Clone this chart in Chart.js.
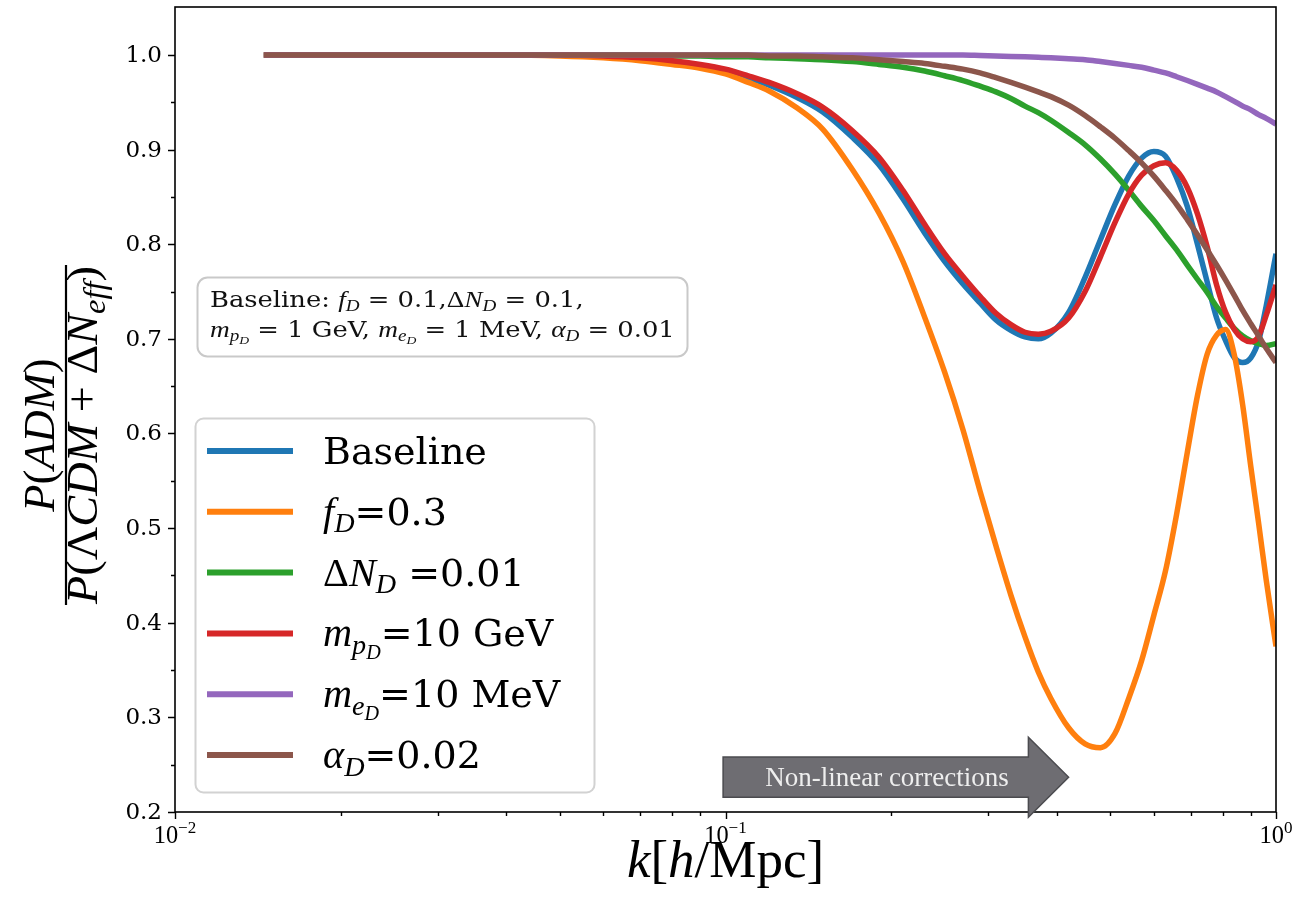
<!DOCTYPE html>
<html lang="en">
<head>
<meta charset="UTF-8">
<title>P(ADM) / P(ΛCDM + ΔNeff)</title>
<script src="https://cdn.jsdelivr.net/npm/chart.js"></script>
<style>
  html, body { margin: 0; padding: 0; background: #fff; }
  #wrap { width: 1299px; height: 914px; }
</style>
</head>
<body>
<div id="wrap"><canvas id="ratioChart" width="1299" height="914"></canvas></div>

<script>
// k [h/Mpc] sample points shared by every curve
const kValues = [0.0145, 0.02, 0.03, 0.04, 0.05, 0.06, 0.07, 0.08, 0.09, 0.1,
  0.11, 0.12, 0.135, 0.15, 0.17, 0.19, 0.21, 0.23, 0.25, 0.27,
  0.29, 0.31, 0.33, 0.35, 0.37, 0.39, 0.42, 0.45, 0.48, 0.51,
  0.54, 0.57, 0.6, 0.63, 0.66, 0.69, 0.72, 0.75, 0.78, 0.81,
  0.84, 0.87, 0.9, 0.93, 0.96, 1.0];

const baseline = [1.0, 1.0, 1.0, 1.0, 1.0, 0.999, 0.996, 0.993, 0.989, 0.983,
  0.976, 0.968, 0.955, 0.94, 0.913, 0.884, 0.848, 0.812, 0.782, 0.758,
  0.738, 0.72, 0.709, 0.702, 0.7, 0.706, 0.728, 0.765, 0.805, 0.842,
  0.872, 0.891, 0.898, 0.893, 0.87, 0.84, 0.8, 0.76, 0.722, 0.698,
  0.68, 0.675, 0.68, 0.698, 0.735, 0.79];

const fD03 = [1.0, 1.0, 1.0, 1.0, 0.999, 0.997, 0.994, 0.99, 0.986, 0.98,
  0.971, 0.962, 0.944, 0.922, 0.879, 0.833, 0.782, 0.723, 0.665, 0.604,
  0.539, 0.481, 0.429, 0.385, 0.348, 0.32, 0.289, 0.272, 0.268, 0.283,
  0.32, 0.36, 0.408, 0.455, 0.515, 0.58, 0.64, 0.684, 0.704, 0.71,
  0.683, 0.63, 0.565, 0.505, 0.445, 0.375];

const dND001 = [1.0, 1.0, 1.0, 1.0, 1.0, 1.0, 1.0, 0.999, 0.999, 0.998,
  0.998, 0.997, 0.996, 0.995, 0.993, 0.99, 0.987, 0.983, 0.978, 0.973,
  0.967, 0.961, 0.954, 0.946, 0.939, 0.931, 0.918, 0.905, 0.89, 0.874,
  0.857, 0.84, 0.825, 0.809, 0.794, 0.778, 0.763, 0.749, 0.734, 0.722,
  0.711, 0.703, 0.698, 0.695, 0.693, 0.695];

const mp10GeV = [1.0, 1.0, 1.0, 1.0, 1.0, 0.999, 0.997, 0.994, 0.99, 0.985,
  0.978, 0.971, 0.959, 0.945, 0.92, 0.892, 0.857, 0.821, 0.79, 0.766,
  0.745, 0.727, 0.715, 0.707, 0.705, 0.708, 0.722, 0.75, 0.787, 0.823,
  0.853, 0.873, 0.883, 0.886, 0.878, 0.86, 0.832, 0.797, 0.757, 0.728,
  0.71, 0.7, 0.697, 0.703, 0.725, 0.757];

const me10MeV = [1.0, 1.0, 1.0, 1.0, 1.0, 1.0, 1.0, 1.0, 1.0, 1.0,
  1.0, 1.0, 1.0, 1.0, 1.0, 1.0, 1.0, 1.0, 1.0, 1.0,
  0.9995, 0.999, 0.9985, 0.998, 0.9975, 0.997, 0.996, 0.995, 0.993, 0.991,
  0.989, 0.987, 0.984, 0.981, 0.977, 0.973, 0.969, 0.965, 0.961, 0.956,
  0.951, 0.946, 0.942, 0.937, 0.933, 0.927];

const alphaD002 = [1.0, 1.0, 1.0, 1.0, 1.0, 1.0, 1.0, 1.0, 1.0, 1.0,
  1.0, 0.999, 0.999, 0.998, 0.997, 0.995, 0.993, 0.991, 0.988, 0.985,
  0.981, 0.976, 0.971, 0.966, 0.961, 0.956, 0.947, 0.936, 0.924, 0.912,
  0.899, 0.886, 0.872, 0.857, 0.842, 0.826, 0.81, 0.794, 0.778, 0.762,
  0.746, 0.73, 0.716, 0.703, 0.69, 0.675];

const seriesNames = ['Baseline', 'f_D=0.3', 'ΔN_D =0.01', 'm_p_D=10 GeV', 'm_e_D=10 MeV', 'α_D=0.02'];
const seriesValues = [baseline, fD03, dND001, mp10GeV, me10MeV, alphaD002];
const seriesColors = ['#1f77b4', '#ff7f0e', '#2ca02c', '#d62728', '#9467bd', '#8c564b'];

// legend labels as [text, style, level]: t = text font, i = math italic, m = math upright
const legendLabels = [
  [['Baseline', 't']],
  [['f', 'i'], ['D', 'i', 1], ['=0.3', 't']],
  [['Δ', 'm'], ['N', 'i'], ['D', 'i', 1], [' =0.01', 't']],
  [['m', 'i'], ['p', 'i', 1], ['D', 'i', 2], ['=10 GeV', 't']],
  [['m', 'i'], ['e', 'i', 1], ['D', 'i', 2], ['=10 MeV', 't']],
  [['α', 'i'], ['D', 'i', 1], ['=0.02', 't']]
];

const infoLines = [
  [['Baseline: ', 't'], ['f', 'i'], ['D', 'i', 1], [' = 0.1,', 't'], ['Δ', 'm'], ['N', 'i'], ['D', 'i', 1], [' = 0.1,', 't']],
  [['m', 'i'], ['p', 'i', 1], ['D', 'i', 2], [' = 1 GeV, ', 't'], ['m', 'i'], ['e', 'i', 1], ['D', 'i', 2],
   [' = 1 MeV, ', 't'], ['α', 'i'], ['D', 'i', 1], [' = 0.01', 't']]
];

const yTicks = [0.2, 0.3, 0.4, 0.5, 0.6, 0.7, 0.8, 0.9, 1.0];
const yTickLabels = ['0.2', '0.3', '0.4', '0.5', '0.6', '0.7', '0.8', '0.9', '1.0'];
const yMinorTicks = [0.25, 0.35, 0.45, 0.55, 0.65, 0.75, 0.85, 0.95];
const xTicks = [0.01, 0.1, 1];
const xTickExponents = ['−2', '−1', '0'];
const xMinorTicks = [0.02, 0.03, 0.04, 0.05, 0.06, 0.07, 0.08, 0.09,
  0.2, 0.3, 0.4, 0.5, 0.6, 0.7, 0.8, 0.9];

const arrowText = 'Non-linear corrections';

const ROMAN = '"DejaVu Serif", serif';
const MATH = '"Liberation Serif", "Times New Roman", serif';

function setSegFont(ctx, style, px) {
  if (style === 'i') ctx.font = 'italic ' + px + 'px ' + MATH;
  else if (style === 'm') ctx.font = px + 'px ' + MATH;
  else ctx.font = px + 'px ' + ROMAN;
}

function richLayout(ctx, segs, size) {
  let w = 0;
  const parts = segs.map(([t, st, lv]) => {
    lv = lv || 0;
    let px = size * (lv === 2 ? 0.5 : lv ? 0.7 : 1);
    if (st !== 't') px *= 1.06;
    setSegFont(ctx, st, px);
    const dy = lv === 1 ? 0.2 * size : lv === 2 ? 0.33 * size : lv === -1 ? -0.42 * size : 0;
    const part = { t, st, px, dy, x: w };
    w += ctx.measureText(t).width;
    return part;
  });
  return { parts, w };
}

// sx stretches the run horizontally
function drawRich(ctx, segs, x, y, size, align, sx) {
  sx = sx || 1;
  const { parts, w } = richLayout(ctx, segs, size);
  const x0 = align === 'center' ? x - w * sx / 2 : align === 'right' ? x - w * sx : x;
  ctx.save();
  ctx.translate(x0, y);
  ctx.scale(sx, 1);
  for (const p of parts) {
    setSegFont(ctx, p.st, p.px);
    ctx.fillText(p.t, p.x, p.dy);
  }
  ctx.restore();
}

function roundRect(ctx, x, y, w, h, r) {
  ctx.beginPath();
  ctx.moveTo(x + r, y);
  ctx.arcTo(x + w, y, x + w, y + h, r);
  ctx.arcTo(x + w, y + h, x, y + h, r);
  ctx.arcTo(x, y + h, x, y, r);
  ctx.arcTo(x, y, x + w, y, r);
  ctx.closePath();
}

const decorations = {
  id: 'decorations',
  afterDatasetsDraw(chart) {
    const { ctx, chartArea: a, scales: { x, y } } = chart;
    ctx.save();
    ctx.textBaseline = 'alphabetic';
    ctx.textAlign = 'left';
    ctx.fillStyle = '#000';

    // frame
    ctx.strokeStyle = '#000';
    ctx.lineWidth = 1.6;
    ctx.strokeRect(a.left, a.top, a.right - a.left, a.bottom - a.top);

    // ticks
    ctx.lineWidth = 1.4;
    ctx.beginPath();
    yTicks.forEach(v => { const py = Math.round(y.getPixelForValue(v)) + 0.5; ctx.moveTo(a.left, py); ctx.lineTo(a.left - 7, py); });
    yMinorTicks.forEach(v => { const py = Math.round(y.getPixelForValue(v)) + 0.5; ctx.moveTo(a.left, py); ctx.lineTo(a.left - 4, py); });
    xTicks.forEach(v => { const px = Math.round(x.getPixelForValue(v)) + 0.5; ctx.moveTo(px, a.bottom); ctx.lineTo(px, a.bottom + 7); });
    xMinorTicks.forEach(v => { const px = Math.round(x.getPixelForValue(v)) + 0.5; ctx.moveTo(px, a.bottom); ctx.lineTo(px, a.bottom + 4); });
    ctx.stroke();

    ctx.font = '23px ' + ROMAN;
    ctx.textAlign = 'right';
    ctx.textBaseline = 'middle';
    yTicks.forEach((v, i) => ctx.fillText(yTickLabels[i], a.left - 13, y.getPixelForValue(v) + 1));
    ctx.textAlign = 'left';
    ctx.textBaseline = 'alphabetic';
    xTicks.forEach((v, i) => {
      drawRich(ctx, [['10', 'm'], [xTickExponents[i], 'm', -1]], x.getPixelForValue(v), a.bottom + 31, 23, 'center');
    });

    // axis titles
    drawRich(ctx, [['k', 'i'], ['[', 'm'], ['h', 'i'], ['/Mpc]', 'm']], (a.left + a.right) / 2, 877, 50, 'center');

    ctx.save();
    ctx.translate(66, 435);
    ctx.rotate(-Math.PI / 2);
    drawRich(ctx, [['P', 'i'], ['(', 'm'], ['ADM', 'i'], [')', 'm']], 0, -12, 42, 'center');
    ctx.fillRect(-170, -1.1, 340, 2.2);
    drawRich(ctx, [['P', 'i'], ['(', 'm'], ['Λ', 'm'], ['CDM', 'i'], [' + ', 'm'], ['Δ', 'm'], ['N', 'i'], ['eff', 'i', 1], [')', 'm']], 0, 31, 42, 'center', 1.04);
    ctx.restore();

    // arrow annotation
    const xb0 = x.getPixelForValue(0.099), xb1 = x.getPixelForValue(0.355), xt = x.getPixelForValue(0.42);
    const yb0 = y.getPixelForValue(0.258), yb1 = y.getPixelForValue(0.2155);
    const yh0 = y.getPixelForValue(0.279), yh1 = y.getPixelForValue(0.1945), ym = y.getPixelForValue(0.2368);
    ctx.beginPath();
    ctx.moveTo(xb0, yb0); ctx.lineTo(xb1, yb0); ctx.lineTo(xb1, yh0); ctx.lineTo(xt, ym);
    ctx.lineTo(xb1, yh1); ctx.lineTo(xb1, yb1); ctx.lineTo(xb0, yb1); ctx.closePath();
    ctx.fillStyle = '#6e6d72';
    ctx.fill();
    ctx.strokeStyle = '#4b4b4f';
    ctx.lineWidth = 1.5;
    ctx.stroke();
    ctx.fillStyle = '#eeeeee';
    ctx.font = '27px ' + MATH;
    ctx.textAlign = 'center';
    ctx.fillText(arrowText, 887, ym + 9);
    ctx.textAlign = 'left';

    // info box
    ctx.fillStyle = 'rgba(255,255,255,0.9)';
    roundRect(ctx, 197.5, 277.5, 490, 79, 10);
    ctx.fill();
    ctx.strokeStyle = '#c9c9c9';
    ctx.lineWidth = 2;
    ctx.stroke();
    ctx.fillStyle = '#111';
    drawRich(ctx, infoLines[0], 210, 307, 21.5, 'left', 1.2);
    drawRich(ctx, infoLines[1], 210, 337, 21.5, 'left', 1.2);

    // legend
    ctx.fillStyle = 'rgba(255,255,255,0.85)';
    roundRect(ctx, 195.5, 418.5, 399, 374, 8);
    ctx.fill();
    ctx.strokeStyle = '#d2d2d2';
    ctx.lineWidth = 2;
    ctx.stroke();
    legendLabels.forEach((segs, i) => {
      const cy = 451 + i * 60.8;
      ctx.strokeStyle = seriesColors[i];
      ctx.lineWidth = 6;
      ctx.beginPath();
      ctx.moveTo(207, cy); ctx.lineTo(293, cy);
      ctx.stroke();
      ctx.fillStyle = '#000';
      drawRich(ctx, segs, 323, cy + 13, 38, 'left');
    });

    ctx.restore();
  }
};

const ctx = document.getElementById('ratioChart').getContext('2d');
new Chart(ctx, {
  type: 'line',
  data: {
    datasets: seriesValues.map((vals, i) => ({
      label: seriesNames[i],
      data: kValues.map((k, j) => ({ x: k, y: vals[j] })),
      borderColor: seriesColors[i],
      backgroundColor: seriesColors[i],
      borderWidth: 5.5,
      pointRadius: 0,
      fill: false,
      cubicInterpolationMode: 'monotone',
      order: seriesValues.length - i
    }))
  },
  options: {
    responsive: false,
    animation: false,
    layout: { padding: { left: 175, right: 23, top: 7, bottom: 102 } },
    scales: {
      x: { type: 'logarithmic', min: 0.01, max: 1, display: false },
      y: { type: 'linear', min: 0.2, max: 1.0507, display: false }
    },
    plugins: {
      legend: { display: false },
      tooltip: { enabled: false }
    }
  },
  plugins: [decorations]
});
</script>
</body>
</html>
